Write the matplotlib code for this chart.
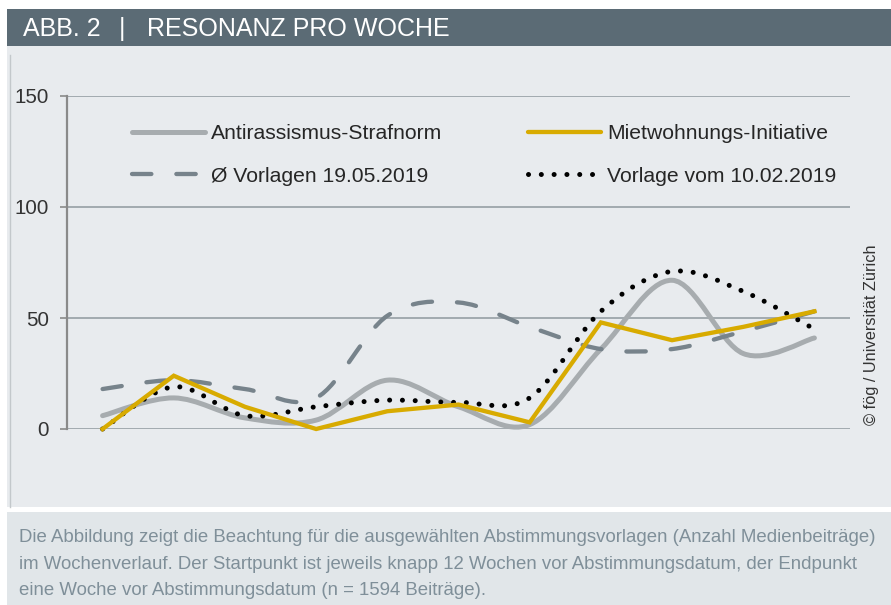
import matplotlib
matplotlib.use("Agg")
import matplotlib.pyplot as plt
from matplotlib.path import Path
from matplotlib.patches import PathPatch, Rectangle
from matplotlib.lines import Line2D

plt.rcParams['font.family'] = ['Liberation Sans', 'DejaVu Sans']

# Daten (Anzahl Medienbeiträge pro Woche)
weeks = list(range(11))
antirassismus = [6, 14, 5, 4, 22, 10, 2, 36, 67, 34, 41]
mietwohnungen = [0, 24, 10, 0, 8, 11, 3, 48, 40, 46, 53]
durchschnitt = [18, 22, 18, 14, 51, 57, 46, 36, 36, 44, 53]
vorlage_feb = [0, 19, 6, 10, 13, 12, 14, 53, 71, 62, 45]

labels = ["Antirassismus-Strafnorm", "Mietwohnungs-Initiative",
          "Ø Vorlagen 19.05.2019", "Vorlage vom 10.02.2019"]
y_ticks = [0, 50, 100, 150]

title_left = "ABB. 2"
title_right = "RESONANZ PRO WOCHE"
caption = ["Die Abbildung zeigt die Beachtung für die ausgewählten Abstimmungsvorlagen (Anzahl Medienbeiträge)",
           "im Wochenverlauf. Der Startpunkt ist jeweils knapp 12 Wochen vor Abstimmungsdatum, der Endpunkt",
           "eine Woche vor Abstimmungsdatum (n = 1594 Beiträge)."]
credit = "© fög / Universität Zürich"

W, H = 891, 605


def fx(px):
    return px / W


def fy(py):
    return 1 - py / H


def smooth_path(xs, ys):
    # Excel-artige geglättete Linie als Bezier-Pfad (Catmull-Rom)
    pts = list(zip(xs, ys))
    verts = [pts[0]]
    codes = [Path.MOVETO]
    n = len(pts)
    for i in range(n - 1):
        p0 = pts[i - 1] if i > 0 else pts[i]
        p1 = pts[i]
        p2 = pts[i + 1]
        p3 = pts[i + 2] if i + 2 < n else pts[i + 1]
        c1 = (p1[0] + (p2[0] - p0[0]) / 6, p1[1] + (p2[1] - p0[1]) / 6)
        c2 = (p2[0] - (p3[0] - p1[0]) / 6, p2[1] - (p3[1] - p1[1]) / 6)
        verts += [c1, c2, p2]
        codes += [Path.CURVE4] * 3
    return Path(verts, codes)


fig = plt.figure(figsize=(W / 100, H / 100), dpi=100)

# Hintergrundflächen (hinter den Achsen)
bg = dict(transform=fig.transFigure, lw=0, zorder=-10)
fig.add_artist(Rectangle((fx(7), fy(45.7)), fx(W - 7), 36.7 / H, color="#5b6b75", **bg))
fig.add_artist(Rectangle((fx(7), fy(507)), fx(W - 7), (507 - 45.7) / H, color="#e8ebee", **bg))
fig.add_artist(Line2D([fx(10), fx(10)], [fy(55), fy(507)],
                      transform=fig.transFigure, color="#c3c8cb", lw=1, zorder=-9))
fig.add_artist(Rectangle((fx(7), 0), fx(W - 7), (H - 512) / H, color="#e1e6e9", **bg))

# Titel
fig.text(fx(23), fy(36), title_left, color="white", fontsize=18, va="baseline")
fig.text(fx(122), fy(36), "|", color="white", fontsize=18, va="baseline", ha="center")
fig.text(fx(147), fy(36), title_right, color="white", fontsize=18, va="baseline")

# Diagramm
ax = fig.add_axes([fx(67), fy(429), (850 - 67) / W, (429 - 96) / H])
ax.set_facecolor("none")
ax.set_xlim(-0.5, 10.5)
ax.set_ylim(0, 150)
ax.set_yticks(y_ticks)
ax.set_xticks([])
for s in ["top", "right", "bottom"]:
    ax.spines[s].set_visible(False)
ax.spines["left"].set_color("#8a8a8a")
ax.spines["left"].set_linewidth(1.6)
ax.tick_params(axis="y", length=5, width=1.2, color="#8a8a8a", pad=8,
               labelsize=14.8, labelcolor="#333333")
ax.set_axisbelow(True)
ax.yaxis.grid(True, color="#8f989e", lw=1.1)

styles = [
    dict(color="#a7acaf", lw=3.6, ls="-", smooth=True),
    dict(color="#d8ab00", lw=3.1, ls="-", smooth=False),
    dict(color="#77838b", lw=3.1, ls=(0, (4.5, 5.8)), smooth=True),
    dict(color="#000000", lw=3.6, ls=(0, (0.01, 2.55)), smooth=True),
]
series = [antirassismus, mietwohnungen, durchschnitt, vorlage_feb]

handles = []
for ys, st in zip(series, styles):
    if st["smooth"]:
        patch = PathPatch(smooth_path(weeks, ys), fill=False, edgecolor=st["color"],
                          lw=st["lw"], ls=st["ls"], capstyle="round",
                          joinstyle="round", clip_on=False)
        ax.add_patch(patch)
    else:
        ax.plot(weeks, ys, color=st["color"], lw=st["lw"], solid_joinstyle="miter",
                clip_on=False)
    handles.append(Line2D([], [], color=st["color"], lw=st["lw"], ls=st["ls"],
                          dash_capstyle="round", solid_capstyle="round"))

leg_kw = dict(loc="upper left", frameon=False, borderpad=0, borderaxespad=0,
              handlelength=3.45, handletextpad=0.3, labelspacing=1.12,
              fontsize=15.2, labelcolor="#262626", bbox_transform=fig.transFigure)
leg1 = ax.legend([handles[0], handles[2]], [labels[0], labels[2]],
                 bbox_to_anchor=(fx(132), fy(124)), **leg_kw)
ax.add_artist(leg1)
ax.legend([handles[1], handles[3]], [labels[1], labels[3]],
          bbox_to_anchor=(fx(528), fy(124)), **leg_kw)

fig.text(fx(871.5), fy(335), credit, rotation=90, ha="center", va="center",
         fontsize=11.8, color="#333333")

# Bildunterschrift
for line, base in zip(caption, [542.3, 569.3, 595]):
    fig.text(fx(19), fy(base), line, fontsize=13.45, color="#7f8f99", va="baseline")

fig.savefig("out.png", dpi=100)
